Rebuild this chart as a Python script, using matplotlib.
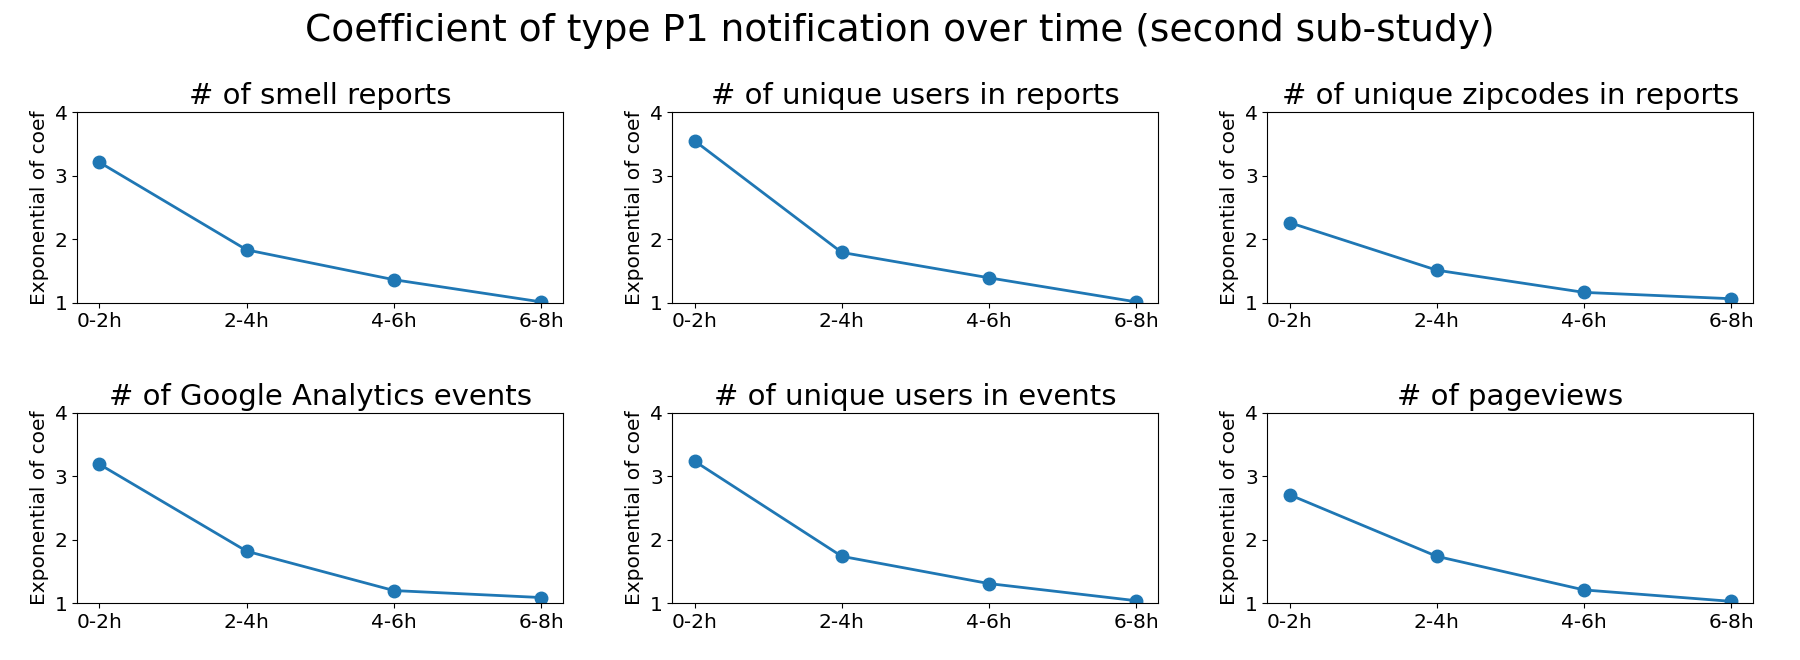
import matplotlib
matplotlib.use("Agg")
import matplotlib.pyplot as plt

# Time windows after the notification
time_bins = ["0-2h", "2-4h", "4-6h", "6-8h"]

# Exponential of coefficient for each metric
smell_reports = [3.21, 1.83, 1.36, 1.01]
unique_users_reports = [3.55, 1.79, 1.39, 1.01]
unique_zipcodes_reports = [2.26, 1.51, 1.16, 1.06]
ga_events = [3.19, 1.82, 1.20, 1.09]
unique_users_events = [3.24, 1.74, 1.31, 1.04]
pageviews = [2.71, 1.74, 1.21, 1.03]

titles = [
    "# of smell reports",
    "# of unique users in reports",
    "# of unique zipcodes in reports",
    "# of Google Analytics events",
    "# of unique users in events",
    "# of pageviews",
]
series = [smell_reports, unique_users_reports, unique_zipcodes_reports,
          ga_events, unique_users_events, pageviews]

fig, axes = plt.subplots(2, 3, figsize=(18, 6.6), dpi=100)
plt.subplots_adjust(left=0.043, right=0.974, top=0.830, bottom=0.086,
                    wspace=0.225, hspace=0.58)

for ax, title, vals in zip(axes.flat, titles, series):
    ax.plot(time_bins, vals, marker="o", color="#1f77b4",
            linewidth=2, markersize=9)
    ax.set_title(title, fontsize=21)
    ax.set_ylim(1, 4)
    ax.set_yticks([1, 2, 3, 4])
    ax.set_ylabel("Exponential of coef", fontsize=14.5)
    ax.tick_params(labelsize=14.5)

fig.suptitle("Coefficient of type P1 notification over time (second sub-study)",
             fontsize=27, y=0.98)

plt.savefig("out.png")
